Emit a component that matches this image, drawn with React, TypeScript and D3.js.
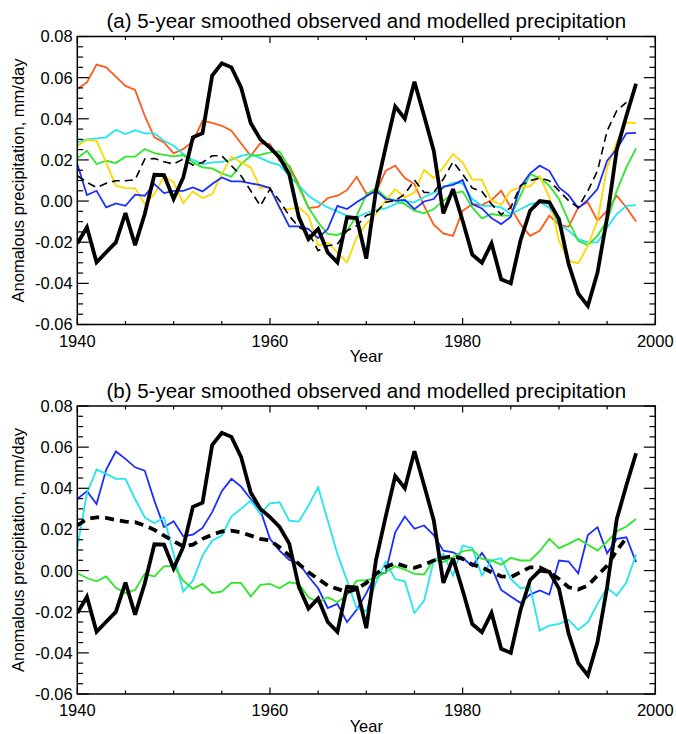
import React from 'react';
import * as d3 from 'd3';

// ---------- data (5-year smoothed anomalies, mm/day) ----------
const years = d3.range(1940, 1999);
const yearsShort = d3.range(1940, 1998);

const observed = [
  -0.0206, -0.0128, -0.0298, -0.0249, -0.0201, -0.0058, -0.0214, -0.0063, 0.0128, 0.0126,
  0.001, 0.0115, 0.031, 0.033, 0.061, 0.067, 0.065, 0.0553, 0.038, 0.030,
  0.026, 0.0212, 0.0131, -0.0079, -0.0185, -0.0136, -0.025, -0.0298, -0.0079, -0.0083,
  -0.028, 0.005, 0.026, 0.046, 0.040, 0.058, 0.0415, 0.0245, -0.006, 0.0058,
  -0.0096, -0.026, -0.030, -0.0206, -0.038, -0.040, -0.0193, -0.0047, 0.0, -0.0006,
  -0.0088, -0.0306, -0.045, -0.051, -0.0347, -0.008, 0.025, 0.0415, 0.057,
];

const orangeA = [
  0.0545, 0.0577, 0.0663, 0.065, 0.0605, 0.056, 0.054, 0.0415, 0.031, 0.0285,
  0.0232, 0.0253, 0.029, 0.039, 0.038, 0.0366, 0.0342, 0.028, 0.022, 0.028,
  0.0277, 0.0196, 0.0172, 0.008, -0.0034, -0.0028, 0.0015, 0.0026, 0.0053, 0.0118,
  0.0037, 0.0042, 0.0147, 0.0172, 0.0112, 0.0083, -0.0023, -0.0115, -0.0157, -0.0169,
  -0.0047, -0.0015, -0.0019, 0.0005, 0.005, -0.0031, -0.0112, -0.0169, -0.0144, -0.0071,
  -0.0115, -0.0125, -0.0031, -0.0006, -0.0096, -0.0047, 0.0026, -0.0031, -0.0099,
];

const cyanA = [
  0.0285, 0.030, 0.0305, 0.031, 0.0347, 0.0326, 0.0345, 0.0329, 0.0329, 0.0293,
  0.0269, 0.0229, 0.020, 0.018, 0.0188, 0.0191, 0.020, 0.022, 0.0229, 0.0209,
  0.0188, 0.0175, 0.0123, 0.0075, 0.0026, -0.0006, -0.0031, -0.005, -0.0071, -0.0079,
  -0.0058, -0.0044, -0.0036, -0.0015, 0.0, -0.0006, 0.002, 0.004, 0.0065, 0.009,
  0.0085, 0.001, -0.0023, -0.0023, -0.0031, -0.0063, -0.004, -0.0015, -0.0006, -0.0031,
  -0.0112, -0.0144, -0.0185, -0.0201, -0.0201, -0.0128, -0.0063, -0.0023, -0.002,
];

const greenA = [
  0.0209, 0.0245, 0.018, 0.0196, 0.0185, 0.0216, 0.0216, 0.0253, 0.0233, 0.0225,
  0.0217, 0.0224, 0.0188, 0.0164, 0.0159, 0.0135, 0.0118, 0.018, 0.022, 0.0225,
  0.0237, 0.0241, 0.0164, 0.0066, -0.0031, -0.0104, -0.016, -0.0165, -0.0144, -0.0071,
  0.003, 0.0062, 0.0018, 0.0002, -0.0015, -0.0047, -0.006, -0.0039, 0.0002, 0.0037,
  0.0047, -0.0031, -0.0084, -0.0063, -0.0071, -0.0071, 0.0026, 0.0131, 0.0112, 0.0075,
  0.001, -0.0096, -0.0193, -0.0214, -0.0169, -0.0096, 0.005, 0.0164, 0.0256,
];

const yellowA = [
  0.0269, 0.0297, 0.0293, 0.0188, 0.0075, 0.0063, 0.0062, -0.0015, 0.0034, 0.012,
  0.0091, -0.001, 0.0047, 0.0015, 0.0034, 0.0131, 0.0216, 0.0188, 0.0164, 0.0063,
  0.007, -0.0039, -0.0039, -0.0031, -0.0071, -0.0217, -0.0201, -0.025, -0.0298, -0.0177,
  -0.011, -0.0063, 0.0002, 0.0057, 0.0018, 0.0042, 0.0151, 0.0112, 0.0164, 0.0229,
  0.0188, 0.0104, 0.0104, 0.0002, -0.0018, 0.005, 0.0066, 0.0071, 0.0123, 0.0018,
  -0.0193, -0.029, -0.0303, -0.0217, -0.0096, 0.0164, 0.0285, 0.0382, 0.0379,
];

const blueA = [
  0.018, 0.0029, 0.005, -0.0031, -0.0011, -0.0023, 0.0031, 0.0026, 0.0083, 0.0039,
  0.005, 0.005, 0.0066, 0.0047, 0.0083, 0.0115, 0.0096, 0.0096, 0.0086, 0.0078,
  0.0063, -0.0031, -0.0123, -0.0123, -0.0136, -0.018, -0.0136, -0.0023, -0.0039, -0.0006,
  0.0023, 0.005, 0.001, 0.0002, 0.0006, -0.0039, -0.0002, 0.001, 0.007, 0.0079,
  0.0102, -0.0015, -0.0036, -0.0083, -0.0112, -0.0076, 0.007, 0.0135, 0.0172, 0.0147,
  0.0066, 0.0029, -0.0034, 0.0006, 0.0058, 0.0196, 0.0253, 0.0329, 0.0332,
];

const meanA = [
  0.0123, 0.0091, 0.0066, 0.0086, 0.0099, 0.0099, 0.0104, 0.0204, 0.0207, 0.0191,
  0.018, 0.0204, 0.0175, 0.0188, 0.022, 0.022, 0.0172, 0.0123, 0.005, -0.0023,
  0.0058, 0.0002, -0.0071, -0.0128, -0.0152, -0.0241, -0.0217, -0.0209, -0.0144, -0.012,
  -0.007, -0.0055, -0.0006, 0.0002, 0.0034, 0.0102, 0.0042, 0.0042, 0.0107, 0.0191,
  0.0131, 0.0063, 0.0047, -0.0015, -0.0066, -0.0031, 0.0075, 0.0099, 0.0112, 0.0099,
  0.005, 0.0002, -0.0031, 0.005, 0.0147, 0.0342, 0.0439, 0.048,
];

const blueB = [
  0.0348, 0.0386, 0.0324, 0.0491, 0.0579, 0.0543, 0.0502, 0.0486, 0.034, 0.0211,
  0.024, 0.0167, 0.0175, 0.0207, 0.0284, 0.0386, 0.0446, 0.0408, 0.0348, 0.0295,
  0.0154, 0.0097, 0.0052, 0.0036, -0.0029, -0.0086, -0.0182, -0.0162, -0.0251, -0.0191,
  -0.011, -0.0016, -0.0011, 0.0186, 0.0263, 0.0203, 0.0219, 0.0173, 0.0097, 0.0089,
  0.0062, 0.0021, 0.0086, 0.0016, -0.0094, -0.0126, -0.0157, -0.0117, -0.0097, -0.0117,
  0.0049, 0.0044, -0.0013, 0.0173, 0.0211, 0.0084, 0.0154, 0.0162, 0.0041,
];

const cyanB = [
  0.0113, 0.0376, 0.0491, 0.047, 0.0446, 0.0446, 0.0348, 0.0259, 0.023, 0.0259,
  0.0081, -0.0102, -0.0049, 0.0073, 0.0146, 0.017, 0.0264, 0.030, 0.034, 0.0276,
  0.0327, 0.0332, 0.0243, 0.0238, 0.0316, 0.0405, 0.0243, 0.0081, -0.0049, -0.0183,
  -0.0197, -0.0057, 0.0041, -0.0041, -0.0052, -0.0206, -0.0146, 0.0049, 0.0081, -0.0024,
  0.0122, 0.011, -0.0024, 0.0049, 0.006, -0.0041, -0.0086, -0.0078, -0.0292, -0.0267,
  -0.0259, -0.024, -0.0288, -0.0251, -0.0162, -0.0084, -0.0122, -0.0057, 0.0078,
];

const greenB = [
  -0.0013, -0.0036, -0.0052, -0.0028, -0.0084, -0.0109, -0.0094, -0.0016, -0.0029, 0.0021,
  0.0024, -0.0049, -0.0089, -0.0065, -0.0109, -0.0102, -0.006, -0.006, -0.0126, -0.007,
  -0.0065, -0.0086, -0.0057, -0.0065, -0.013, -0.0154, -0.013, -0.0154, -0.0118, -0.0049,
  -0.0047, -0.0036, -0.0008, 0.0021, 0.0005, -0.0016, -0.0019, 0.0052, 0.0041, 0.0065,
  0.0094, 0.0102, 0.0057, 0.0049, 0.0029, 0.0062, 0.0049, 0.0049, 0.0094, 0.0154,
  0.0109, 0.013, 0.0154, 0.0125, 0.0097, 0.0141, 0.019, 0.0214, 0.0251,
];

const meanB = [
  0.0219, 0.0251, 0.0259, 0.0256, 0.0246, 0.0238, 0.0235, 0.0219, 0.0198, 0.017,
  0.0143, 0.0117, 0.0126, 0.0154, 0.0175, 0.019, 0.0194, 0.0186, 0.017, 0.0154,
  0.0146, 0.0113, 0.0073, 0.0032, -0.0008, -0.0041, -0.0073, -0.0089, -0.0105, -0.0089,
  -0.006, -0.0016, 0.0016, 0.0037, 0.0021, 0.0013, 0.0029, 0.0049, 0.0062, 0.0071,
  0.0057, 0.0029, 0.0016, -0.0008, -0.0028, -0.0032, -0.0008, 0.0016, 0.0016, -0.0008,
  -0.0041, -0.0081, -0.0092, -0.0073, -0.0024, 0.0024, 0.0097, 0.0159,
];

const xMajorTicks = [1940, 1960, 1980, 2000];
const xMinorTicks = d3.range(1940, 2001, 5);
const yMajorTicks = [-0.06, -0.04, -0.02, 0.0, 0.02, 0.04, 0.06, 0.08];
const yMinorTicks = d3.range(-12, 17).map((i) => i * 0.005);

const titles = [
  '(a) 5-year smoothed observed and modelled precipitation',
  '(b) 5-year smoothed observed and modelled precipitation',
];
const yLabel = 'Anomalous precipitation, mm/day';
const xLabel = 'Year';

// ---------- layout ----------
const W = 676;
const H = 734;
const LEFT = 77.3;
const RIGHT = 655.3;
const PH = 288;
const PANEL_TOPS = [36.5, 406];
const FONT = "'Liberation Sans', Arial, Helvetica, sans-serif";

type Series = {
  values: number[];
  yrs: number[];
  color: string;
  width: number;
  dash?: string;
};

const seriesA: Series[] = [
  { values: orangeA, yrs: years, color: '#ff5a1a', width: 1.8 },
  { values: cyanA, yrs: years, color: '#22e6ee', width: 1.8 },
  { values: greenA, yrs: years, color: '#2ee62a', width: 1.8 },
  { values: yellowA, yrs: years, color: '#ffd800', width: 1.8 },
  { values: blueA, yrs: years, color: '#1a2eff', width: 1.8 },
  { values: meanA, yrs: yearsShort, color: '#000', width: 1.6, dash: '8,5' },
  { values: observed, yrs: years, color: '#000', width: 3.8 },
];

const seriesB: Series[] = [
  { values: blueB, yrs: years, color: '#1a2eff', width: 1.8 },
  { values: cyanB, yrs: years, color: '#22e6ee', width: 1.8 },
  { values: greenB, yrs: years, color: '#2ee62a', width: 1.8 },
  { values: meanB, yrs: yearsShort, color: '#000', width: 3.8, dash: '9,6' },
  { values: observed, yrs: years, color: '#000', width: 3.8 },
];

function Panel({ top, title, series }: { top: number; title: string; series: Series[] }) {
  const x = d3.scaleLinear().domain([1940, 2000]).range([LEFT, RIGHT]);
  const y = d3.scaleLinear().domain([-0.06, 0.08]).range([top + PH, top]);
  const bottom = top + PH;
  const xMaj = 6.5;
  const xMin = 3.5;
  const yMaj = 11.5;
  const yMin = 5.8;

  return (
    <g>
      <text x={(LEFT + RIGHT) / 2} y={top - 8.3} textAnchor="middle" fontSize={20.5} fontFamily={FONT} fill="#000">
        {title}
      </text>
      <defs>
        <clipPath id={`clip${top}`}>
          <rect x={LEFT} y={top} width={RIGHT - LEFT} height={PH} />
        </clipPath>
      </defs>
      <g clipPath={`url(#clip${top})`}>
        {series.map((s, k) => {
          const line = d3
            .line<number>()
            .x((_, i) => x(s.yrs[i]))
            .y((d) => y(d));
          return (
            <path
              key={k}
              d={line(s.values) || ''}
              fill="none"
              stroke={s.color}
              strokeWidth={s.width}
              strokeDasharray={s.dash}
              strokeLinejoin="miter"
              strokeMiterlimit={3}
            />
          );
        })}
      </g>
      {xMinorTicks.map((t) => {
        const len = xMajorTicks.includes(t) ? xMaj : xMin;
        return (
          <g key={'xt' + t}>
            <line x1={x(t)} x2={x(t)} y1={bottom} y2={bottom - len} stroke="#000" strokeWidth={1.2} />
            <line x1={x(t)} x2={x(t)} y1={top} y2={top + len} stroke="#000" strokeWidth={1.2} />
          </g>
        );
      })}
      {yMinorTicks.map((t, i) => {
        const len = i % 4 === 0 ? yMaj : yMin;
        return (
          <g key={'yt' + i}>
            <line x1={LEFT} x2={LEFT + len} y1={y(t)} y2={y(t)} stroke="#000" strokeWidth={1.2} />
            <line x1={RIGHT} x2={RIGHT - len} y1={y(t)} y2={y(t)} stroke="#000" strokeWidth={1.2} />
          </g>
        );
      })}
      <rect x={LEFT} y={top} width={RIGHT - LEFT} height={PH} fill="none" stroke="#000" strokeWidth={1.5} />
      {xMajorTicks.map((t) => (
        <text key={'xl' + t} x={x(t)} y={bottom + 22} textAnchor="middle" fontSize={16.5} fontFamily={FONT} fill="#000">
          {String(t)}
        </text>
      ))}
      {yMajorTicks.map((t) => (
        <text
          key={'yl' + t}
          x={LEFT - 4.6}
          y={y(t)}
          dy="0.36em"
          textAnchor="end"
          fontSize={16.5}
          fontFamily={FONT}
          fill="#000"
        >
          {t.toFixed(2)}
        </text>
      ))}
      <text x={(LEFT + RIGHT) / 2} y={bottom + 37.5} textAnchor="middle" fontSize={16.5} fontFamily={FONT} fill="#000">
        {xLabel}
      </text>
      <text
        transform={`translate(24, ${top + PH / 2}) rotate(-90)`}
        textAnchor="middle"
        fontSize={16.5}
        fontFamily={FONT}
        fill="#000"
      >
        {yLabel}
      </text>
    </g>
  );
}

export default function App() {
  return (
    <svg
      width={W}
      height={H}
      viewBox={`0 0 ${W} ${H}`}
      style={{ position: 'absolute', left: 0, top: 0, background: '#fff' }}
    >
      <rect x={0} y={0} width={W} height={H} fill="#fff" />
      <Panel top={PANEL_TOPS[0]} title={titles[0]} series={seriesA} />
      <Panel top={PANEL_TOPS[1]} title={titles[1]} series={seriesB} />
    </svg>
  );
}
